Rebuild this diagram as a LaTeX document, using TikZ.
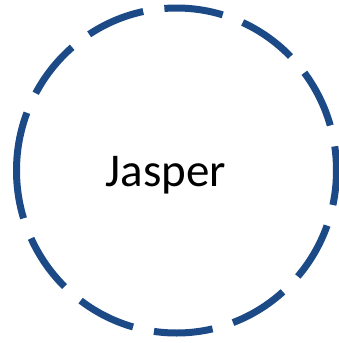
\documentclass[tikz,border=0pt]{standalone}
\usepackage{fontspec}
\setmainfont{Carlito}
\usetikzlibrary{positioning}
\definecolor{RingBlue}{RGB}{28,74,135}
\tikzset{
  ring/.style={draw=RingBlue, line width=7pt, dash pattern=on 59pt off 21.4pt},
  namelbl/.style={font=\fontsize{47}{56}\selectfont, text=black, inner sep=0pt}
}
\begin{document}
\begin{tikzpicture}[x=1pt, y=1pt]
  \useasboundingbox (0,0) rectangle (339,-343);

  % Dashed ring (starts at the left, runs clockwise)
  \coordinate (ctr) at (176.5,-170.5);
  \draw[ring] (ctr) ++(180:160 and 162.5)
    arc[start angle=180, end angle=-180, x radius=160, y radius=162.5];

  % Name
  \node[namelbl, anchor=base] (jasper) at (166,-186.7) {Jasper};
\end{tikzpicture}
\end{document}
